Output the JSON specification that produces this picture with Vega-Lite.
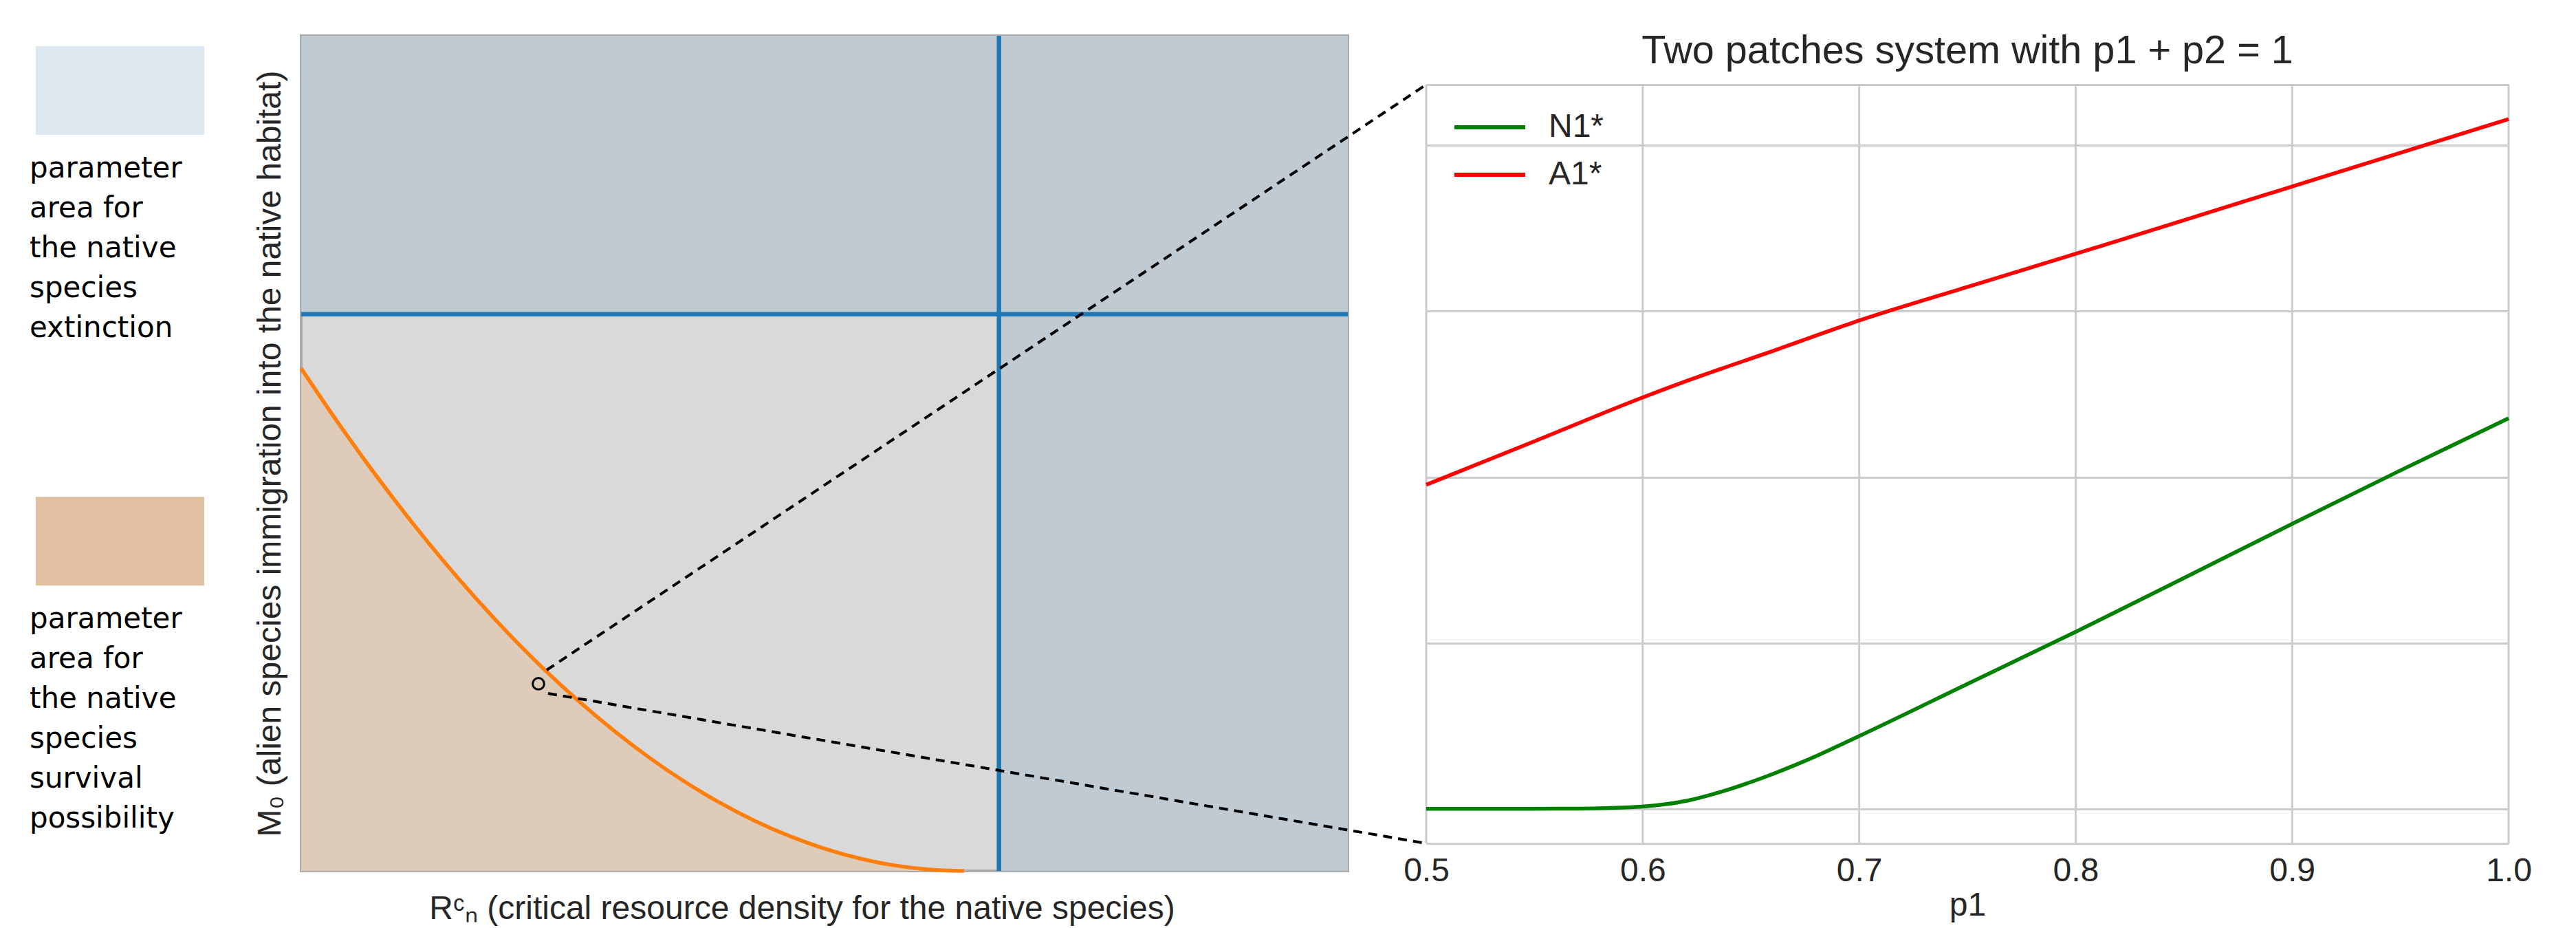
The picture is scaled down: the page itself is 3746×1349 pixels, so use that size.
{
  "$schema": "https://vega.github.io/schema/vega-lite/v6.json",
  "background": "white",
  "padding": {"left": 43, "top": 46, "right": 0, "bottom": 0},
  "spacing": 114,
  "bounds": "flush",
  "resolve": {"scale": {"color": "independent"}, "legend": {"color": "independent"}},
  "config": {"view": {"stroke": null}, "font": "Liberation Sans"},
  "datasets": {
    "boundary": [
      {"r": 0.0, "m": 0.9025},
      {"r": 0.05, "m": 0.81},
      {"r": 0.1, "m": 0.7225},
      {"r": 0.15, "m": 0.64},
      {"r": 0.2, "m": 0.5625},
      {"r": 0.25, "m": 0.49},
      {"r": 0.3, "m": 0.4225},
      {"r": 0.35, "m": 0.36},
      {"r": 0.4, "m": 0.3025},
      {"r": 0.45, "m": 0.25},
      {"r": 0.5, "m": 0.2025},
      {"r": 0.55, "m": 0.16},
      {"r": 0.6, "m": 0.1225},
      {"r": 0.65, "m": 0.09},
      {"r": 0.7, "m": 0.0625},
      {"r": 0.75, "m": 0.04},
      {"r": 0.8, "m": 0.0225},
      {"r": 0.85, "m": 0.01},
      {"r": 0.9, "m": 0.0025},
      {"r": 0.95, "m": 0.0}
    ],
    "patches": [
      {"p1": 0.5, "series": "N1*", "value": 0.0},
      {"p1": 0.54, "series": "N1*", "value": 0.0},
      {"p1": 0.56, "series": "N1*", "value": 0.001},
      {"p1": 0.58, "series": "N1*", "value": 0.004},
      {"p1": 0.59, "series": "N1*", "value": 0.008},
      {"p1": 0.6, "series": "N1*", "value": 0.014},
      {"p1": 0.61, "series": "N1*", "value": 0.027},
      {"p1": 0.62, "series": "N1*", "value": 0.048},
      {"p1": 0.63, "series": "N1*", "value": 0.08},
      {"p1": 0.64, "series": "N1*", "value": 0.118},
      {"p1": 0.65, "series": "N1*", "value": 0.162},
      {"p1": 0.66, "series": "N1*", "value": 0.21},
      {"p1": 0.67, "series": "N1*", "value": 0.262},
      {"p1": 0.68, "series": "N1*", "value": 0.318},
      {"p1": 0.69, "series": "N1*", "value": 0.378},
      {"p1": 0.7, "series": "N1*", "value": 0.439},
      {"p1": 0.75, "series": "N1*", "value": 0.753},
      {"p1": 0.8, "series": "N1*", "value": 1.067},
      {"p1": 0.85, "series": "N1*", "value": 1.392},
      {"p1": 0.9, "series": "N1*", "value": 1.718},
      {"p1": 0.95, "series": "N1*", "value": 2.04},
      {"p1": 1.0, "series": "N1*", "value": 2.355},
      {"p1": 0.5, "series": "A1*", "value": 1.954},
      {"p1": 0.55, "series": "A1*", "value": 2.216},
      {"p1": 0.6, "series": "A1*", "value": 2.48},
      {"p1": 0.62, "series": "A1*", "value": 2.578},
      {"p1": 0.64, "series": "A1*", "value": 2.67},
      {"p1": 0.66, "series": "A1*", "value": 2.76},
      {"p1": 0.68, "series": "A1*", "value": 2.853},
      {"p1": 0.7, "series": "A1*", "value": 2.944},
      {"p1": 0.75, "series": "A1*", "value": 3.146},
      {"p1": 0.8, "series": "A1*", "value": 3.346},
      {"p1": 0.85, "series": "A1*", "value": 3.549},
      {"p1": 0.9, "series": "A1*", "value": 3.752},
      {"p1": 0.95, "series": "A1*", "value": 3.955},
      {"p1": 1.0, "series": "A1*", "value": 4.158}
    ]
  },
  "hconcat": [
    {
      "width": 272,
      "height": 1214,
      "data": {"values": [
        {"category": "extinction", "label": "parameter\narea for\nthe native\nspecies\nextinction"},
        {"category": "survival", "label": "parameter\narea for\nthe native\nspecies\nsurvival\npossibility"}
      ]},
      "encoding": {
        "y": {"field": "category", "type": "nominal", "axis": null,
              "scale": {"domain": ["extinction", "survival"], "paddingInner": 0.803, "paddingOuter": 0.328, "align": 0.0349}},
        "x": {"datum": 0, "type": "quantitative", "axis": null, "scale": {"domain": [0, 1.1102], "nice": false, "zero": false}}
      },
      "layer": [
        {
          "mark": {"type": "rect"},
          "encoding": {
            "x2": {"datum": 1},
            "color": {"field": "category", "type": "nominal", "legend": null,
                      "scale": {"domain": ["extinction", "survival"], "range": ["#dde8f1", "#e1c0a1"]}}
          }
        },
        {
          "mark": {"type": "text", "align": "left", "baseline": "alphabetic", "lineBreak": "\n", "lineHeight": 58,
                   "font": "DejaVu Sans", "fontSize": 42, "color": "#000000", "dx": -9, "dy": 62},
          "encoding": {
            "y": {"field": "category", "type": "nominal", "bandPosition": 1},
            "text": {"field": "label"}
          }
        }
      ]
    },
    {
      "width": 1522,
      "height": 1214,
      "view": {"fill": "#d9d9d9", "stroke": "#aaaaaa", "strokeWidth": 4},
      "layer": [
        {
          "data": {"values": [
            {"r": 0, "r2": 1.5, "m": 1, "m2": 1.5},
            {"r": 1, "r2": 1.5, "m": 0, "m2": 1}
          ]},
          "mark": {"type": "rect", "color": "#bfcad3"},
          "encoding": {
            "x": {"field": "r", "type": "quantitative", "scale": {"domain": [0, 1.5], "nice": false, "zero": false},
                  "axis": {"title": "Rᶜₙ (critical resource density for the native species)", "labels": false, "ticks": false,
                           "domain": false, "grid": false, "titleFontSize": 48, "titleFont": "Liberation Sans",
                           "titleFontWeight": "normal", "titleColor": "#262626", "titlePadding": 31, "titleX": 728}},
            "x2": {"field": "r2"},
            "y": {"field": "m", "type": "quantitative", "scale": {"domain": [0, 1.5], "nice": false, "zero": false},
                  "axis": {"title": "M₀ (alien species immigration into the native habitat)", "labels": false, "ticks": false,
                           "domain": false, "grid": false, "titleFontSize": 48, "titleFont": "Liberation Sans",
                           "titleFontWeight": "normal", "titleColor": "#262626", "titlePadding": 21}},
            "y2": {"field": "m2"}
          }
        },
        {
          "data": {"name": "boundary"},
          "mark": {"type": "area", "color": "#decbb9", "interpolate": "monotone"},
          "encoding": {
            "x": {"field": "r", "type": "quantitative"},
            "y": {"field": "m", "type": "quantitative"}
          }
        },
        {
          "data": {"name": "boundary"},
          "mark": {"type": "line", "color": "#ff7f0e", "strokeWidth": 5.5, "interpolate": "monotone"},
          "encoding": {
            "x": {"field": "r", "type": "quantitative"},
            "y": {"field": "m", "type": "quantitative"}
          }
        },
        {
          "data": {"values": [{"m": 1}]},
          "mark": {"type": "rule", "color": "#1f77b4", "strokeWidth": 6.5},
          "encoding": {"y": {"field": "m", "type": "quantitative"}}
        },
        {
          "data": {"values": [{"r": 1}]},
          "mark": {"type": "rule", "color": "#1f77b4", "strokeWidth": 6.5},
          "encoding": {"x": {"field": "r", "type": "quantitative"}}
        },
        {
          "data": {"values": [
            {"r": 0.3518, "m": 0.3608, "r2": 1.6124, "m2": 1.4123},
            {"r": 0.3538, "m": 0.3188, "r2": 1.6124, "m2": 0.0494}
          ]},
          "mark": {"type": "rule", "color": "#000000", "strokeWidth": 4, "strokeDash": [13, 9], "clip": false},
          "encoding": {
            "x": {"field": "r", "type": "quantitative"},
            "y": {"field": "m", "type": "quantitative"},
            "x2": {"field": "r2"},
            "y2": {"field": "m2"}
          }
        },
        {
          "data": {"values": [{"r": 0.34, "m": 0.3361}]},
          "mark": {"type": "point", "filled": false, "color": "#000000", "strokeWidth": 3, "size": 280, "opacity": 1},
          "encoding": {
            "x": {"field": "r", "type": "quantitative"},
            "y": {"field": "m", "type": "quantitative"}
          }
        }
      ]
    },
    {
      "width": 1574,
      "height": 1174,
      "title": {"text": "Two patches system with p1 + p2 = 1", "frame": "group", "anchor": "middle", "baseline": "alphabetic",
                "offset": -98, "fontSize": 57.6, "fontWeight": "normal", "font": "Liberation Sans", "color": "#262626"},
      "layer": [
        {
          "data": {"values": [{"p1": 0.5}, {"p1": 0.6}, {"p1": 0.7}, {"p1": 0.8}, {"p1": 0.9}, {"p1": 1.0}]},
          "mark": {"type": "rule", "color": "#cccccc", "strokeWidth": 3},
          "encoding": {
            "x": {"field": "p1", "type": "quantitative", "scale": {"domain": [0.5, 1.0], "nice": false, "zero": false},
                  "axis": {"values": [0.5, 0.6, 0.7, 0.8, 0.9, 1.0], "format": ".1f", "title": "p1", "grid": false,
                           "ticks": false, "tickSize": 0, "domain": false,
                           "labelFontSize": 48, "labelFont": "Liberation Sans", "labelColor": "#262626", "labelPadding": 16,
                           "labelFlush": false, "labelOverlap": false, "titleFontSize": 48, "titleFont": "Liberation Sans",
                           "titleColor": "#262626", "titleFontWeight": "normal", "titlePadding": 2}},
            "y": {"datum": -0.208, "type": "quantitative",
                  "scale": {"domain": [-0.208, 4.366], "range": [1174, 71], "nice": false, "zero": false},
                  "axis": {"values": [-0.208, 0, 1, 2, 3, 4, 4.366], "labels": false, "ticks": false, "domain": false,
                           "title": null, "grid": true, "gridColor": "#cccccc", "gridWidth": 3}},
            "y2": {"datum": 4.366}
          }
        },
        {
          "data": {"name": "patches"},
          "mark": {"type": "line", "strokeWidth": 5.5, "interpolate": "monotone"},
          "encoding": {
            "x": {"field": "p1", "type": "quantitative"},
            "y": {"field": "value", "type": "quantitative"},
            "color": {"field": "series", "type": "nominal",
                      "scale": {"domain": ["N1*", "A1*"], "range": ["#008000", "#ff0000"]},
                      "legend": {"title": null, "orient": "none", "legendX": 38, "legendY": 109, "padding": 0,
                                 "symbolType": "stroke", "symbolSize": 10609, "symbolStrokeWidth": 6,
                                 "labelFontSize": 48, "labelFont": "Liberation Sans", "labelColor": "#262626",
                                 "labelOffset": 31, "rowPadding": 21, "clipHeight": 48}}
          }
        }
      ]
    }
  ]
}
